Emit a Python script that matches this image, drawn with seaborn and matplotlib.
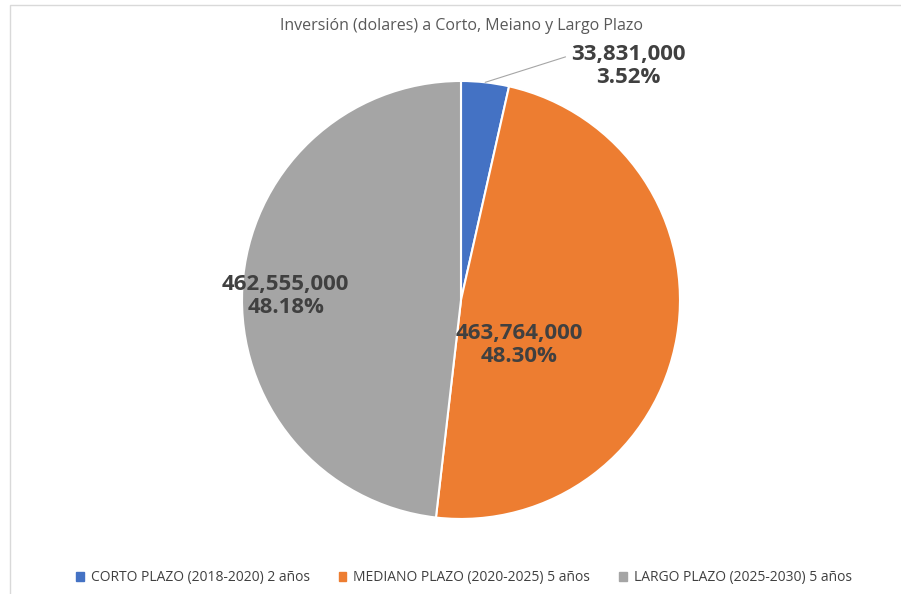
import numpy as np
import matplotlib
matplotlib.use("Agg")
import matplotlib.pyplot as plt
import seaborn as sns
from matplotlib.patches import Rectangle

categories = ["CORTO PLAZO (2018-2020) 2 años",
              "MEDIANO PLAZO (2020-2025) 5 años",
              "LARGO PLAZO (2025-2030) 5 años"]
values = [33831000, 463764000, 462555000]
colors = ["#4472C4", "#ED7D31", "#A5A5A5"]

sns.set_style("white")
plt.rcParams['font.family'] = ['Open Sans', 'DejaVu Sans']

fig = plt.figure(figsize=(9.01, 5.94), dpi=100)
ax = fig.add_axes([0.2686, 0.1263, 0.4861, 0.7374])

wedges, _ = ax.pie(values, colors=colors, startangle=90, counterclock=False,
                   radius=1, wedgeprops=dict(edgecolor="white", linewidth=1.5))
ax.set_xlim(-1, 1)
ax.set_ylim(-1, 1)
ax.set_aspect("equal")
ax.axis("off")

total = sum(values)
labels = [f"{v:,}\n{v / total * 100:.2f}%" for v in values]
txt = dict(ha="center", va="center", fontsize=16, fontweight="bold",
           color="#404040", linespacing=1.12)

# blue slice: outside label with leader line
w = wedges[0]
mid = np.deg2rad((w.theta1 + w.theta2) / 2)
ax.annotate(labels[0], xy=(np.cos(mid), np.sin(mid)), xytext=(0.765, 1.07),
            arrowprops=dict(arrowstyle="-", color="#a6a6a6", lw=0.8,
                            shrinkA=0, shrinkB=0, relpos=(-0.05, 0.7)),
            annotation_clip=False, **txt)

# orange and gray slices: labels inside
ax.text(0.265, -0.205, labels[1], **txt)
ax.text(-0.80, 0.02, labels[2], **txt)

fig.text(0.5117, 0.957, "Inversión (dolares) a Corto, Meiano y Largo Plazo",
         ha="center", va="center", fontsize=11.5, color="#595959")

handles = [Rectangle((0, 0), 1, 1, color=c) for c in colors]
fig.legend(handles, categories, loc="center", bbox_to_anchor=(0.515, 0.027),
           ncol=3, frameon=False, fontsize=10, labelcolor="#404040",
           handlelength=0.55, handleheight=0.55, handletextpad=0.5,
           columnspacing=2.1)

fig.patches.append(Rectangle((10 / 901, -0.01), 1.0, 1.0016,
                             transform=fig.transFigure, fill=False,
                             edgecolor="#d9d9d9", linewidth=1))

fig.savefig("out.png", dpi=100)
